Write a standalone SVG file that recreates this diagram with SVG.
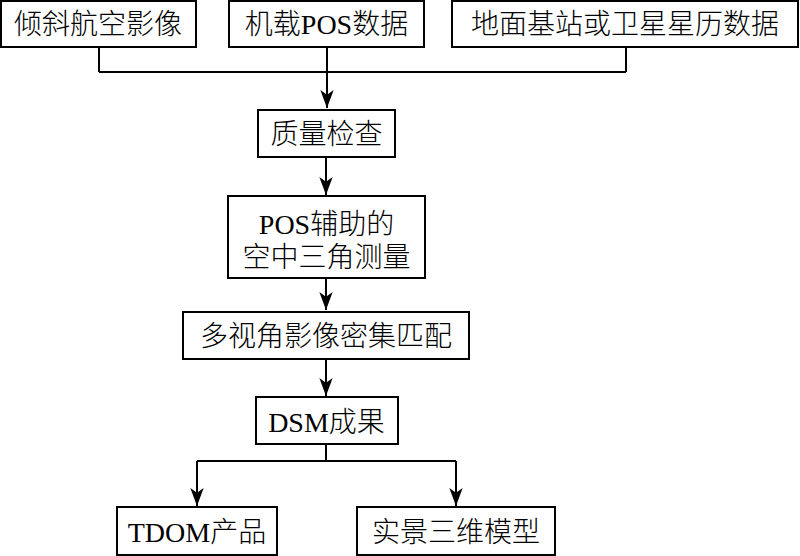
<svg xmlns="http://www.w3.org/2000/svg" width="800" height="556" viewBox="0 0 800 556">
<defs>
<style>
.box{fill:#fff;stroke:#000;stroke-width:2}
.t{font-family:"Liberation Serif","Noto Sans CJK SC",serif;font-size:28px;font-weight:300;fill:#000;text-anchor:middle}
.c{fill:none;stroke:#000;stroke-width:2}
</style>
<marker id="ah" markerUnits="userSpaceOnUse" markerWidth="20" markerHeight="16" viewBox="-20 -8 21 16" refX="0" refY="0" orient="auto">
<path d="M0,0 L-19,-7 L-14,0 L-19,7 Z" fill="#000"/>
</marker>
</defs>
<g id="connectors">
<path class="c" d="M99,47 V72 M626,47 V72 M99,72 H626"/>
<path class="c" d="M327,47 V108" marker-end="url(#ah)"/>
<path class="c" d="M326,157 V195" marker-end="url(#ah)"/>
<path class="c" d="M326,278 V310" marker-end="url(#ah)"/>
<path class="c" d="M326,359 V396" marker-end="url(#ah)"/>
<path class="c" d="M326,444 V461 M197,461 H456"/>
<path class="c" d="M197,461 V506" marker-end="url(#ah)"/>
<path class="c" d="M456,461 V506" marker-end="url(#ah)"/>
</g>
<g id="n1"><rect class="box" x="1" y="1" width="195" height="46"/><text class="t" x="98" y="34">倾斜航空影像</text></g>
<g id="n2"><rect class="box" x="229" y="1" width="195" height="46"/><text class="t" x="326.5" y="34">机载POS数据</text></g>
<g id="n3"><rect class="box" x="452" y="1" width="346" height="46"/><text class="t" x="625" y="34">地面基站或卫星星历数据</text></g>
<g id="n4"><rect class="box" x="258" y="110" width="137" height="47"/><text class="t" x="326.5" y="143.5">质量检查</text></g>
<g id="n5"><rect class="box" x="228" y="196" width="197" height="82"/><text class="t" x="326.5" y="233.5">POS辅助的</text><text class="t" x="326.5" y="266.5">空中三角测量</text></g>
<g id="n6"><rect class="box" x="183" y="312" width="286" height="47"/><text class="t" x="326" y="346">多视角影像密集匹配</text></g>
<g id="n7"><rect class="box" x="256" y="397" width="142" height="47"/><text class="t" x="326.5" y="431.5">DSM成果</text></g>
<g id="n8"><rect class="box" x="117" y="507" width="160" height="48"/><text class="t" x="197" y="541.5">TDOM产品</text></g>
<g id="n9"><rect class="box" x="357" y="507" width="198" height="48"/><text class="t" x="456" y="541.5">实景三维模型</text></g>
</svg>
